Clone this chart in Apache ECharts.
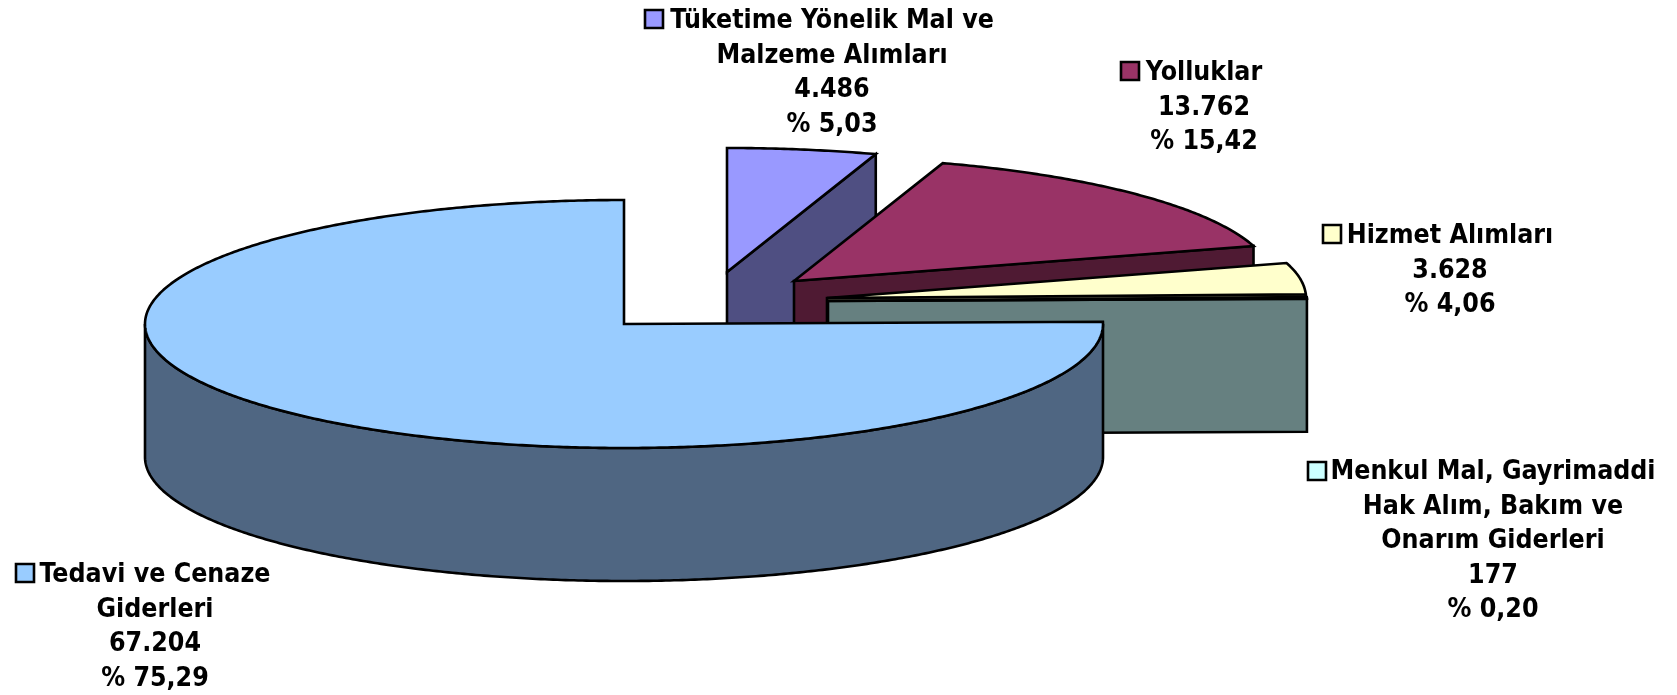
<!DOCTYPE html>
<html>
<head>
<meta charset="utf-8">
<style>html,body{margin:0;padding:0;background:#fff}#c{width:1677px;height:695px}</style>
<script src="https://cdn.jsdelivr.net/npm/echarts@6/dist/echarts.min.js"></script>
</head>
<body>
<div id="c"></div>
<script>
// --- data ---
const categories = ['Tüketime Yönelik Mal ve\nMalzeme Alımları', 'Yolluklar', 'Hizmet Alımları', 'Menkul Mal, Gayrimaddi\nHak Alım, Bakım ve\nOnarım Giderleri', 'Tedavi ve Cenaze\nGiderleri'];
const values = [4486, 13762, 3628, 177, 67204];
const valueLabels = ['4.486', '13.762', '3.628', '177', '67.204'];
const percentLabels = ['% 5,03', '% 15,42', '% 4,06', '% 0,20', '% 75,29'];

// --- layout and style ---
const topColors = ['#9999FF', '#993366', '#FFFFCC', '#CCFFFF', '#99CCFF'];
const sideColors = ['#4F4F82', '#4F1A33', '#808066', '#668080', '#4F6682'];
const RX = 479, RY = 124, DEPTH = 133;
const centers = [[727, 272], [794, 281], [827, 298], [828, 301], [624, 324]];
const labelCenterX = [832, 1204, 1450, 1493, 155];
const labelTopY = [4, 56, 219, 455, 558];
const keyPos = [[645, 10], [1121, 62], [1323, 225], [1308, 462], [16, 564]];
const KEY = 18, LINE_H = 34.5;
const FONT = '"DejaVu Sans Condensed", "DejaVu Sans"';

const total = values.reduce((s, v) => s + v, 0);
const startAngles = [];
values.reduce((s, v, i) => { startAngles[i] = s; return s + v / total * 360; }, 0);

function pt(c, deg, dy) {
  const t = deg * Math.PI / 180;
  return [c[0] + RX * Math.sin(t), c[1] - RY * Math.cos(t) + (dy || 0)];
}
function arc(c, a, b, dy) {
  const pts = [], n = Math.max(2, Math.ceil((b - a) / 0.5));
  for (let i = 0; i <= n; i++) pts.push(pt(c, a + (b - a) * i / n, dy));
  return pts;
}
const edge = { stroke: '#000', lineWidth: 2.6, lineJoin: 'miter', miterLimit: 20 };

function renderItem(params, api) {
  const i = params.dataIndex, c = centers[i];
  const a = startAngles[i], b = a + api.value(1) / total * 360;
  const kids = [];
  const poly = (points, fill) => kids.push({ type: 'polygon', shape: { points }, style: Object.assign({ fill }, edge) });

  if (b < 180) {
    const e = pt(c, b);
    poly([c, e, [e[0], e[1] + DEPTH], [c[0], c[1] + DEPTH]], sideColors[i]);
  }
  const wa = Math.max(a, 90), wb = Math.min(b, 270);
  if (wb > wa) {
    poly(arc(c, wa, wb).concat(arc(c, wa, wb, DEPTH).reverse()), sideColors[i]);
  }
  poly([c].concat(arc(c, a, b)), topColors[i]);

  kids.push({
    type: 'rect',
    shape: { x: keyPos[i][0], y: keyPos[i][1], width: KEY, height: KEY },
    style: Object.assign({ fill: topColors[i] }, edge)
  });
  kids.push({
    type: 'text',
    style: {
      text: [categories[i], valueLabels[i], percentLabels[i]].join('\n'),
      x: labelCenterX[i], y: labelTopY[i],
      align: 'center', verticalAlign: 'top',
      lineHeight: LINE_H,
      fill: '#000',
      fontFamily: FONT, fontWeight: 'bold', fontSize: 26.5
    }
  });
  return { type: 'group', children: kids };
}

const chart = echarts.init(document.getElementById('c'), null, { renderer: 'canvas' });
chart.setOption({
  animation: false,
  backgroundColor: '#fff',
  tooltip: { show: false },
  series: [{
    type: 'custom',
    coordinateSystem: 'none',
    silent: true,
    renderItem,
    data: values.map((v, i) => [i, v])
  }]
});
</script>
</body>
</html>
